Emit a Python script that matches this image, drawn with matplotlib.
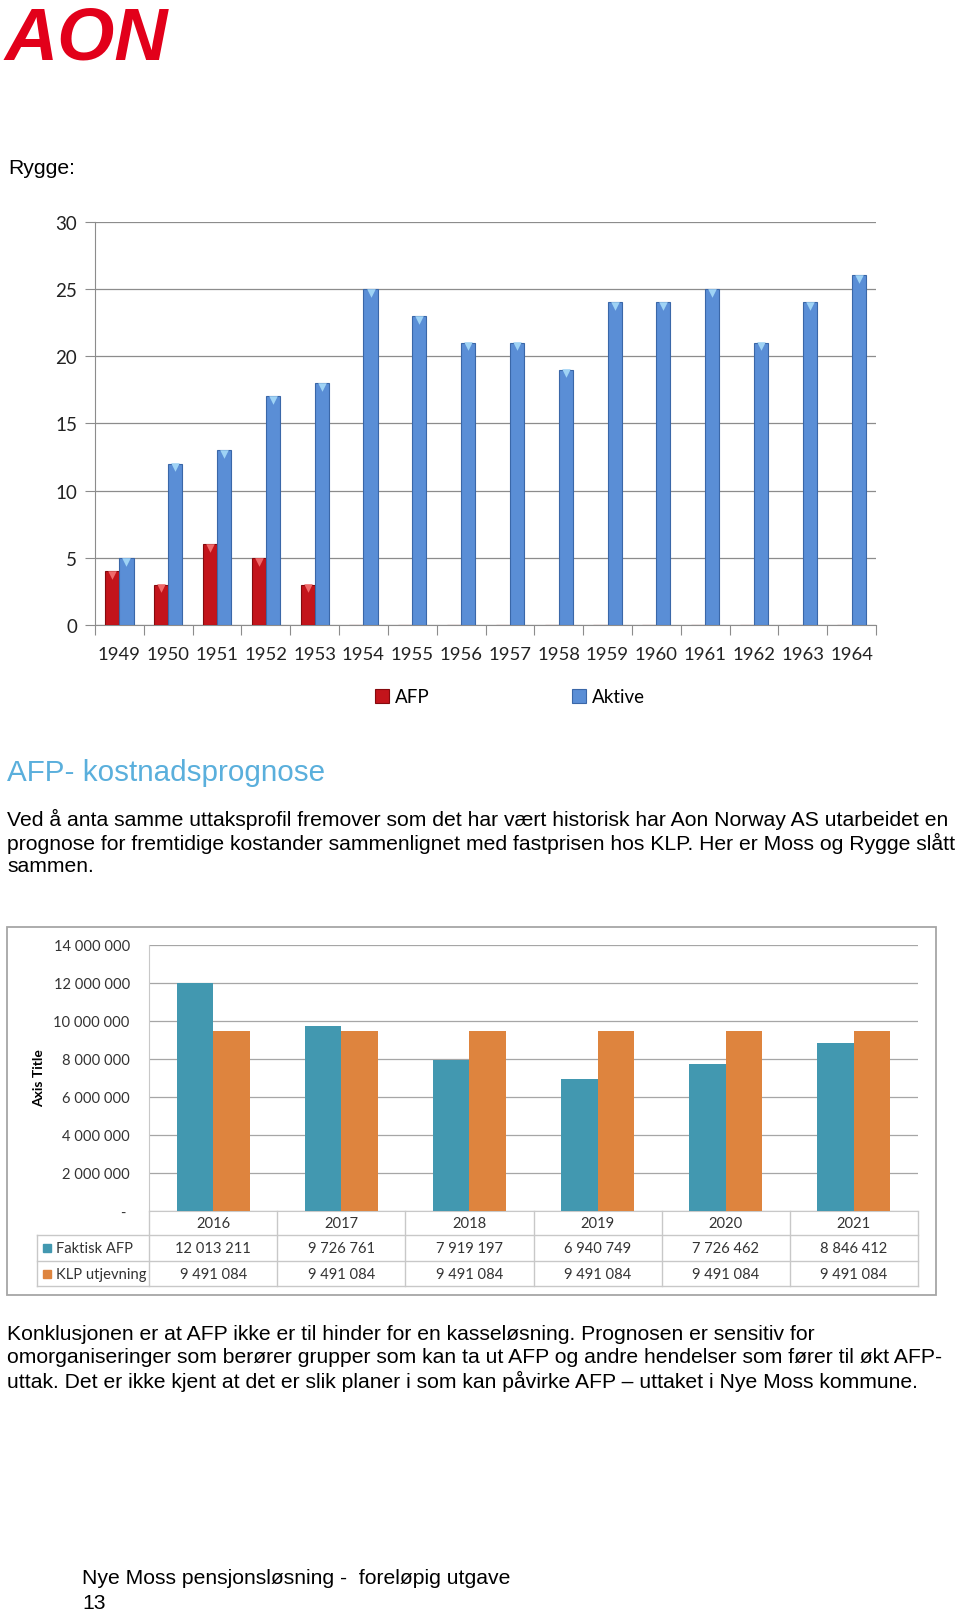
import numpy as np
import matplotlib.pyplot as plt
from matplotlib.patches import Rectangle
from matplotlib.transforms import blended_transform_factory

# --- data: uttak per årskull (Rygge) ---
years = ['1949', '1950', '1951', '1952', '1953', '1954', '1955', '1956',
         '1957', '1958', '1959', '1960', '1961', '1962', '1963', '1964']
afp = [4, 3, 6, 5, 3, 0, 0, 0, 0, 0, 0, 0, 0, 0, 0, 0]
aktive = [5, 12, 13, 17, 18, 25, 23, 21, 21, 19, 24, 24, 25, 21, 24, 26]

# --- data: kostnadsprognose ---
prog_years = ['2016', '2017', '2018', '2019', '2020', '2021']
faktisk_afp = [12013211, 9726761, 7919197, 6940749, 7726462, 8846412]
klp_utjevning = [9491084, 9491084, 9491084, 9491084, 9491084, 9491084]
serie_navn = ['Faktisk AFP', 'KLP utjevning']

W, H = 960, 1615
BODY = 'Liberation Sans'
CHART = 'Lato'


def fx(x):
    return x / W


def fy(y):
    return 1 - y / H


fig = plt.figure(figsize=(W / 100, H / 100), dpi=100)

# logo + tekst
fig.text(fx(5), fy(40), 'AON', color='#E2001A', fontsize=53, fontweight='bold',
         style='italic', family=BODY, va='center', ha='left')
fig.text(fx(8), fy(168), 'Rygge:', fontsize=15.2, family=BODY, va='center')

# ---------------- diagram 1 ----------------
ax1 = fig.add_axes([fx(95), fy(626), (876 - 95) / W, (626 - 222.7) / H])
x = np.arange(len(years))
bw = 0.29
b_afp = ax1.bar(x - bw / 2, afp, bw, color='#C3141B', edgecolor='#850A0E', lw=0.8,
                label='AFP', zorder=3)
b_akt = ax1.bar(x + bw / 2, aktive, bw, color='#5A8ED6', edgecolor='#3A67A8', lw=0.8,
                label='Aktive', zorder=3)
# lyse topper (3D-effekt)
for xs, vals, c in [(x - bw / 2, afp, '#F06A6A'), (x + bw / 2, aktive, '#9FD3F5')]:
    v = np.array(vals)
    m = v > 0
    ax1.scatter(xs[m], v[m] - 0.28, marker='v', s=38, color=c, lw=0, zorder=4)

ax1.set_xlim(-0.5, len(years) - 0.5)
ax1.set_ylim(0, 30)
ax1.set_yticks(range(0, 31, 5))
ax1.yaxis.grid(True, color='#8C8C8C', lw=0.9)
ax1.set_axisbelow(True)
for s in ['top', 'right']:
    ax1.spines[s].set_visible(False)
for s in ['left', 'bottom']:
    ax1.spines[s].set_color('#8C8C8C')
ax1.set_xticks(np.arange(-0.5, len(years), 1.0))
ax1.set_xticklabels([])
ax1.set_xticks(x, minor=True)
ax1.set_xticklabels(years, minor=True, fontsize=13.3, family=CHART, color='#222222')
ax1.tick_params(axis='x', which='major', length=7, color='#8C8C8C', direction='out')
ax1.tick_params(axis='x', which='minor', length=0, pad=15)
ax1.tick_params(axis='y', length=7, color='#8C8C8C', pad=6)
for t in ax1.get_yticklabels():
    t.set_fontsize(13.5)
    t.set_family(CHART)
    t.set_color('#222222')

fig.legend([b_afp, b_akt], ['AFP', 'Aktive'], loc='center',
           bbox_to_anchor=(fx(510), fy(698)), ncol=2, frameon=False,
           prop={'family': CHART, 'size': 13.5}, handlelength=0.75,
           handleheight=0.75, handletextpad=0.3, columnspacing=7.6)

# overskrift + avsnitt
fig.text(fx(7), fy(773), 'AFP- kostnadsprognose', color='#5AAFDC', fontsize=21.3,
         family=BODY, va='center')
para1 = ['Ved å anta samme uttaksprofil fremover som det har vært historisk har Aon Norway AS utarbeidet en',
         'prognose for fremtidige kostander sammenlignet med fastprisen hos KLP. Her er Moss og Rygge slått',
         'sammen.']
for i, line in enumerate(para1):
    fig.text(fx(7), fy(819 + i * 24), line, fontsize=15.25, family=BODY, va='center')

# ---------------- diagram 2 ----------------
fig.patches.append(Rectangle((fx(7), fy(1296)), (936 - 7) / W, (1296 - 928) / H,
                             transform=fig.transFigure, fill=False,
                             edgecolor='#A6A6A6', lw=1.3))

ax_l, ax_r, ax_t, ax_b = 149.3, 917.7, 946, 1211.7
ax2 = fig.add_axes([fx(ax_l), fy(ax_b), (ax_r - ax_l) / W, (ax_b - ax_t) / H])
x2 = np.arange(len(prog_years))
bw2 = 0.287
ax2.bar(x2 - bw2 / 2, faktisk_afp, bw2, color='#4298B0', zorder=3)
ax2.bar(x2 + bw2 / 2, klp_utjevning, bw2, color='#DE843E', zorder=3)
ax2.set_xlim(-0.5, len(prog_years) - 0.5)
ax2.set_ylim(0, 14e6)
yt = np.arange(0, 14e6 + 1, 2e6)
ax2.set_yticks(yt)
ax2.set_yticklabels(['- ' if v == 0 else f'{int(v):,}'.replace(',', ' ') for v in yt],
                    fontsize=10.6, family=CHART, color='#333333')
ax2.tick_params(axis='y', length=0, pad=14)
ax2.set_xticks([])
ax2.yaxis.grid(True, color='#A6A6A6', lw=0.9)
ax2.set_axisbelow(True)
for s in ['top', 'right']:
    ax2.spines[s].set_visible(False)
for s in ['left', 'bottom']:
    ax2.spines[s].set_color('#C8C8C8')

fig.text(fx(39), fy(1078), 'Axis Title', rotation=90, fontsize=10, fontweight='bold',
         family=CHART, ha='center', va='center')

# datatabell under diagrammet
cat_px = (ax_r - ax_l) / len(prog_years)
ah = ax_b - ax_t
tr = blended_transform_factory(ax2.transData, ax2.transAxes)


def dx(p):
    return -0.5 + (p - ax_l) / cat_px


def dy(p):
    return -(p - ax_b) / ah


line_kw = dict(color='#C8C8C8', lw=1.0, transform=tr, clip_on=False)
row_y = [dy(1236), dy(1262), dy(1287.3)]
left = dx(36.7)
for ry in row_y:
    ax2.plot([left, len(prog_years) - 0.5], [ry, ry], **line_kw)
ax2.plot([left, left], [row_y[0], row_y[2]], **line_kw)
for b in np.arange(-0.5, len(prog_years), 1.0):
    ax2.plot([b, b], [0, row_y[2]], **line_kw)

tkw = dict(transform=tr, fontsize=10.6, family=CHART, va='center', color='#333333')
yc = [dy(1224), dy(1249), dy(1274.7)]
for i, yr in enumerate(prog_years):
    ax2.text(i, yc[0], yr, ha='center', **tkw)
    ax2.text(i, yc[1], f'{faktisk_afp[i]:,}'.replace(',', ' '), ha='center', **tkw)
    ax2.text(i, yc[2], f'{klp_utjevning[i]:,}'.replace(',', ' '), ha='center', **tkw)
sq = 8
for name, c, ycen in zip(serie_navn, ['#4298B0', '#DE843E'], yc[1:]):
    ax2.add_patch(Rectangle((dx(42.7), ycen - sq / 2 / ah), sq / cat_px, sq / ah,
                            color=c, transform=tr, clip_on=False))
    ax2.text(dx(56), ycen, name, ha='left', **tkw)

# avsnitt 2
para2 = ['Konklusjonen er at AFP ikke er til hinder for en kasseløsning. Prognosen er sensitiv for',
         'omorganiseringer som berører grupper som kan ta ut AFP og andre hendelser som fører til økt AFP-',
         'uttak. Det er ikke kjent at det er slik planer i som kan påvirke AFP \u2013 uttaket i Nye Moss kommune.']
for i, line in enumerate(para2):
    fig.text(fx(7), fy(1334 + i * 23.5), line, fontsize=15.2, family=BODY, va='center')

fig.text(fx(82), fy(1579), 'Nye Moss pensjonsløsning -  foreløpig utgave', fontsize=15.2,
         family=BODY, va='center')
fig.text(fx(82), fy(1604), '13', fontsize=15.2, family=BODY, va='center')

fig.savefig('out.png', dpi=100, facecolor='white')
